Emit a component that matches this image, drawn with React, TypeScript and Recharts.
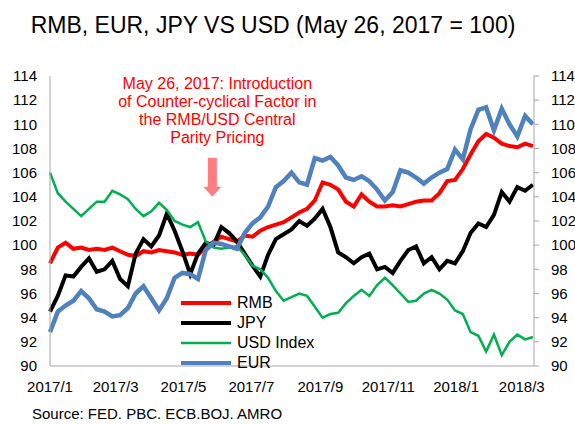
import { LineChart, Line, XAxis, YAxis, Legend, ReferenceDot } from 'recharts';

// days counted from 2017-01-01, weekly readings
const days = [
  0, 7, 14, 21, 28, 35, 42, 49, 56, 63, 70, 77, 84, 91, 98, 105, 112, 119, 126, 133, 140,
  147, 154, 161, 168, 175, 182, 189, 196, 203, 210, 217, 224, 231, 238, 245, 252, 259, 266,
  273, 280, 287, 294, 301, 308, 315, 322, 329, 336, 343, 350, 357, 364, 371, 378, 385, 392,
  399, 406, 413, 420, 427, 434,
];

const rmb = [
  98.5, 99.8, 100.2, 99.7, 99.8, 99.6, 99.7, 99.6, 99.8, 99.5,
  99.2, 99.1, 99.5, 99.4, 99.6, 99.5, 99.4, 99.2, 99.3, 99.2,
  99.8, 100.3, 100.7, 100.5, 100.3, 100.8, 100.7, 101.2, 101.5,
  101.7, 101.9, 102.3, 102.7, 103.0, 103.7, 105.2, 105.0, 104.6, 103.6,
  103.2, 104.2, 103.6, 103.2, 103.2, 103.3, 103.2, 103.4, 103.6, 103.7,
  103.7, 104.3, 105.3, 105.4, 106.3, 107.5, 108.6, 109.2, 108.9, 108.4,
  108.2, 108.1, 108.4, 108.2,
];

const jpy = [
  94.5, 95.8, 97.5, 97.4, 98.2, 98.9, 97.8, 98.0, 98.7, 97.2,
  96.6, 99.3, 100.5, 99.9, 100.8, 102.6, 101.2, 99.5, 97.6, 99.3,
  100.2, 100.0, 101.5, 101.0, 100.3, 99.3, 98.3, 97.4, 99.2, 100.5,
  100.9, 101.3, 102.0, 101.6, 102.2, 103.0, 101.5,
  99.4, 99.0, 98.5, 99.0, 99.3, 98.0, 98.2, 97.7, 98.7, 99.6,
  99.9, 98.5, 99.0, 98.0, 98.7, 98.5, 99.5, 101.0, 101.8, 101.5,
  102.5, 104.4, 103.6, 104.8, 104.5, 105.0,
];

const usdIndex = [
  106.0, 104.3, 103.6, 103.0, 102.4, 103.0, 103.6, 103.6, 104.5, 104.2,
  103.8, 103.0, 102.4, 102.8, 103.5, 102.9, 102.0, 101.7, 101.5, 101.9,
  100.3, 99.8, 99.7, 99.8, 99.9, 99.2, 98.3, 98.0, 97.3,
  96.2, 95.4, 95.7, 96.0, 95.8, 94.9, 94.0, 94.3, 94.4, 95.2,
  95.8, 96.3, 95.8, 96.7, 97.3, 96.7, 96.0, 95.3, 95.4, 96.0,
  96.3, 96.0, 95.5, 94.6, 94.3, 92.8, 92.5, 91.2, 92.6, 90.9,
  92.0, 92.6, 92.2, 92.4,
];

const eur = [
  92.8, 94.5, 95.0, 95.4, 96.2, 95.6, 94.7, 94.5, 94.1, 94.2,
  94.8, 96.0, 96.6, 95.6, 94.6, 95.6, 97.3, 97.7, 97.6, 97.2,
  99.6, 100.2, 100.1, 99.9, 99.7, 101.0, 101.8, 102.3, 103.2,
  104.8, 105.3, 106.0, 105.2, 105.0, 107.2, 107.0, 107.3, 106.6, 105.6,
  105.4, 105.7, 105.3, 104.6, 103.7, 104.4, 106.2, 106.0, 105.6, 105.1,
  105.6, 106.0, 106.3, 107.9, 107.1, 109.6, 111.2, 111.4, 109.5, 111.3,
  110.0, 109.0, 110.7, 110.0,
];

const xTickDays = [0, 59, 120, 181, 243, 304, 365, 424];
const xTickLabels = ['2017/1', '2017/3', '2017/5', '2017/7', '2017/9', '2017/11', '2018/1', '2018/3'];
const yTicks = [90, 92, 94, 96, 98, 100, 102, 104, 106, 108, 110, 112, 114];

const seriesNames = ['RMB', 'JPY', 'USD Index', 'EUR'];
const seriesColors = ['#FF0000', '#000000', '#00B050', '#4F81BD'];

const noteLines = [
  'May 26, 2017: Introduction',
  'of Counter-cyclical Factor in',
  'the RMB/USD Central',
  'Parity Pricing',
];
const baseDay = 145; // May 26, 2017

const data = days.map((d, i) => ({
  day: d,
  rmb: rmb[i],
  jpy: jpy[i],
  usd: usdIndex[i],
  eur: eur[i],
}));

const font = 'Arial, "Liberation Sans", sans-serif';
const axisGray = '#A6A6A6';
const tickStyle = { fill: '#000', fontSize: 15, fontFamily: font };

function NoteArrow(props: any) {
  const { cx, cy } = props;
  if (cx == null || cy == null) return null;
  const ax = cx + 1;
  return (
    <g>
      <path
        d={`M${ax - 4.5},${cy - 39} L${ax + 4.5},${cy - 39} L${ax + 4.5},${cy - 10} L${ax + 9},${cy - 10} L${ax},${cy} L${ax - 9},${cy - 10} L${ax - 4.5},${cy - 10} Z`}
        fill="#FF7C80"
      />
      {noteLines.map((t, i) => (
        <text
          key={t}
          x={cx + 6}
          y={cy - 108 + i * 18}
          textAnchor="middle"
          fill="#FF0000"
          fontSize={16}
          fontFamily={font}
        >
          {t}
        </text>
      ))}
    </g>
  );
}

function LegendBox() {
  return (
    <div style={{ fontFamily: font, fontSize: 16, color: '#000' }}>
      {seriesNames.map((n, i) => (
        <div key={n} style={{ display: 'flex', alignItems: 'center', height: 20 }}>
          <svg width={52} height={20}>
            <line x1={0} y1={10} x2={50} y2={10} stroke={seriesColors[i]} strokeWidth={i === 2 ? 2.5 : 4} />
          </svg>
          <span style={{ marginLeft: 4, lineHeight: '20px' }}>{n}</span>
        </div>
      ))}
    </div>
  );
}

export default function App() {
  return (
    <div style={{ position: 'absolute', left: 0, top: 0, width: 575, height: 425, background: '#fff', fontFamily: font }}>
      <div
        style={{
          position: 'absolute', left: 0, width: 546, top: 12, textAlign: 'center',
          fontSize: 23, lineHeight: '26px', color: '#000', whiteSpace: 'nowrap',
        }}
      >
        RMB, EUR, JPY VS USD (May 26, 2017 = 100)
      </div>
      <LineChart
        width={575}
        height={425}
        data={data}
        margin={{ top: 76, right: 0, left: 0, bottom: 29 }}
        style={{ position: 'absolute', left: 0, top: 0 }}
      >
        <XAxis
          dataKey="day"
          type="number"
          domain={[0, 435]}
          ticks={xTickDays}
          tickFormatter={(v: number) => xTickLabels[xTickDays.indexOf(v)] ?? ''}
          tick={tickStyle}
          fontSize={15}
          tickLine={false}
          tickMargin={9}
          axisLine={{ stroke: axisGray }}
          height={30}
          interval={0}
        />
        <YAxis
          yAxisId="left"
          domain={[90, 114]}
          ticks={yTicks}
          tick={tickStyle}
          fontSize={15}
          tickLine={false}
          tickMargin={7}
          axisLine={{ stroke: axisGray }}
          width={50}
          interval={0}
        />
        <YAxis
          yAxisId="right"
          orientation="right"
          domain={[90, 114]}
          ticks={yTicks}
          tick={tickStyle}
          fontSize={15}
          tickLine={{ stroke: axisGray }}
          tickSize={5}
          tickMargin={12}
          axisLine={{ stroke: axisGray }}
          width={41}
          interval={0}
        />
        <Line yAxisId="left" type="linear" dataKey="rmb" name="RMB" stroke={seriesColors[0]} strokeWidth={4} dot={false} isAnimationActive={false} />
        <Line yAxisId="left" type="linear" dataKey="jpy" name="JPY" stroke={seriesColors[1]} strokeWidth={4} dot={false} isAnimationActive={false} />
        <Line yAxisId="left" type="linear" dataKey="usd" name="USD Index" stroke={seriesColors[2]} strokeWidth={2.5} dot={false} isAnimationActive={false} />
        <Line yAxisId="right" type="linear" dataKey="eur" name="EUR" stroke={seriesColors[3]} strokeWidth={4.5} dot={false} isAnimationActive={false} />
        <ReferenceDot yAxisId="left" x={baseDay} y={104} ifOverflow="visible" shape={NoteArrow} />
        <Legend
          layout="vertical"
          align="center"
          verticalAlign="middle"
          content={LegendBox}
          wrapperStyle={{ left: 181, top: 293, width: 150 }}
        />
      </LineChart>
      <div style={{ position: 'absolute', left: 32, top: 405, fontSize: 15, color: '#000', whiteSpace: 'nowrap' }}>
        Source: FED. PBC. ECB.BOJ. AMRO
      </div>
    </div>
  );
}
